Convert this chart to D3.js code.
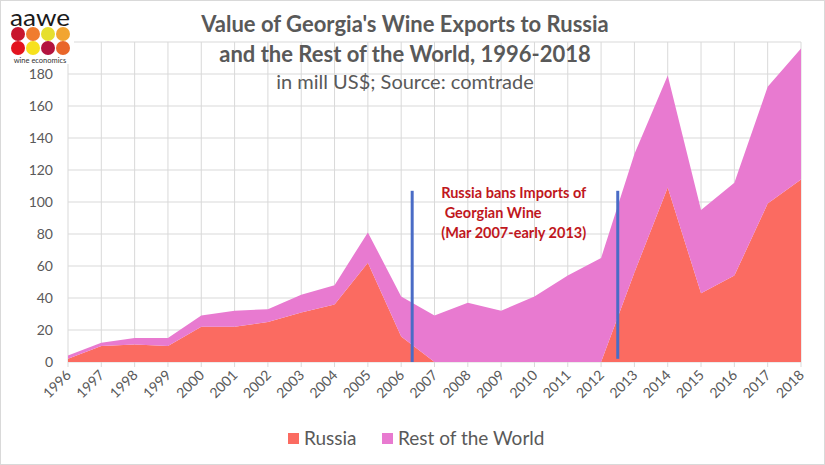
<!DOCTYPE html>
<html>
<head>
<meta charset="utf-8">
<script src="https://cdn.jsdelivr.net/npm/d3@7"></script>
<style>
  body { margin: 0; background: #fff; }
  svg { font-family: Lato, "Open Sans", sans-serif; }
</style>
</head>
<body>
<svg id="chart" width="825" height="465"></svg>
<script>
// values, mill US$
var years = d3.range(1996, 2019);
var russia = [2, 10, 11, 10, 22, 22, 25, 31, 36, 62, 16, 0, 0, 0, 0, 0, 0, 56, 109, 43, 54, 99, 114];
var total  = [4, 12, 15, 15, 29, 32, 33, 42, 48, 81, 41, 29, 37, 32, 41, 54, 65, 130, 179, 95, 112, 172, 196];
var rest = total.map((t, i) => t - russia[i]);
var yTicks = [0, 20, 40, 60, 80, 100, 120, 140, 160, 180];
var banYears = [2006.33, 2012.5];
var banNote = ["Russia bans Imports of", " Georgian Wine", "(Mar 2007-early 2013)"];

var svg = d3.select('#chart');
var width = 825, height = 465;
var margin = {top: 42, left: 68, right: 24, bottom: 103};

svg.append('rect').attr('x', 0.5).attr('y', 0.5).attr('width', width - 1).attr('height', height - 1)
  .attr('fill', '#fff').attr('stroke', '#d9d9d9');

var x = d3.scaleLinear().domain([1996, 2018]).range([margin.left, width - margin.right]);
var y = d3.scaleLinear().domain([0, 200]).range([height - margin.bottom, margin.top]);

// grid
svg.append('g').selectAll('line').data(d3.range(0, 201, 20)).join('line')
  .attr('x1', x(1996)).attr('x2', x(2018))
  .attr('y1', d => y(d)).attr('y2', d => y(d))
  .attr('stroke', '#d9d9d9').attr('stroke-width', 1);
svg.append('g').selectAll('line').data(years).join('line')
  .attr('x1', d => x(d)).attr('x2', d => x(d))
  .attr('y1', y(0) + 5).attr('y2', y(200))
  .attr('stroke', '#d9d9d9').attr('stroke-width', 1);

// stacked areas
var data = years.map((yr, i) => ({year: yr, russia: russia[i], rest: rest[i]}));
var stack = d3.stack().keys(['russia', 'rest'])(data);
var colors = {russia: '#fb6b61', rest: '#e87ad0'};
var area = d3.area()
  .x(d => x(d.data.year))
  .y0(d => y(d[0]))
  .y1(d => y(d[1]));
svg.append('g').selectAll('path').data(stack).join('path')
  .attr('d', area)
  .attr('fill', d => colors[d.key]);

// ban markers
svg.append('g').selectAll('line').data(banYears).join('line')
  .attr('x1', d => x(d)).attr('x2', d => x(d))
  .attr('y1', y(107)).attr('y2', (d, i) => i ? y(2) : y(0))
  .attr('stroke', '#4a6cc6').attr('stroke-width', 3);

svg.append('g').selectAll('text').data(banNote).join('text')
  .attr('x', x(2007.2)).attr('y', (d, i) => 198 + i * 20)
  .attr('fill', '#c0171d').attr('font-size', 14.5).attr('font-weight', 'bold')
  .attr('xml:space', 'preserve')
  .text(d => d);

// axes labels
svg.append('g').selectAll('text').data(yTicks).join('text')
  .attr('x', 53).attr('y', d => y(d) + 5)
  .attr('text-anchor', 'end').attr('font-size', 14).attr('fill', '#595959')
  .text(d => d);

svg.append('g').selectAll('text').data(years).join('text')
  .attr('transform', d => 'translate(' + (x(d) + 4) + ',' + (y(0) + 14) + ') rotate(-45)')
  .attr('text-anchor', 'end').attr('font-size', 14).attr('fill', '#595959')
  .text(d => d);

// title
svg.append('text').attr('x', 405).attr('y', 32).attr('text-anchor', 'middle')
  .attr('font-size', 22).attr('font-weight', 'bold').attr('fill', '#595959')
  .text("Value of Georgia's Wine Exports to Russia");
svg.append('text').attr('x', 405).attr('y', 62).attr('text-anchor', 'middle')
  .attr('font-size', 22).attr('font-weight', 'bold').attr('fill', '#595959')
  .text('and the Rest of the World, 1996-2018');
svg.append('text').attr('x', 405).attr('y', 89).attr('text-anchor', 'middle')
  .attr('font-size', 20).attr('fill', '#595959')
  .text('in mill US$; Source: comtrade');

// legend
var legend = [{key: 'russia', label: 'Russia', x: 288}, {key: 'rest', label: 'Rest of the World', x: 382}];
var lg = svg.append('g').selectAll('g').data(legend).join('g')
  .attr('transform', d => 'translate(' + d.x + ',433)');
lg.append('rect').attr('width', 11).attr('height', 11).attr('fill', d => colors[d.key]);
lg.append('text').attr('x', 16).attr('y', 12).attr('font-size', 19).attr('fill', '#595959')
  .text(d => d.label);

// aawe logo
var logo = svg.append('g');
logo.append('rect').attr('x', 4).attr('y', 2).attr('width', 70).attr('height', 62).attr('fill', '#fff');
logo.append('text').attr('x', 10).attr('y', 26).attr('font-size', 24)
  .attr('textLength', 60).attr('lengthAdjust', 'spacingAndGlyphs')
  .attr('fill', '#1a1a1a').text('aawe');
var dots = ['#c8152d', '#f07c2e', '#e6df2e', '#f2a531', '#e3141f', '#f7e11d', '#b3133f', '#e9662a'];
logo.selectAll('circle').data(dots).join('circle')
  .attr('cx', (d, i) => 18 + (i % 4) * 15).attr('cy', (d, i) => i < 4 ? 34 : 48)
  .attr('r', 7).attr('fill', d => d);
logo.append('text').attr('x', 40).attr('y', 63).attr('text-anchor', 'middle')
  .attr('font-size', 7.5).attr('fill', '#333').text('wine economics');
</script>
</body>
</html>
